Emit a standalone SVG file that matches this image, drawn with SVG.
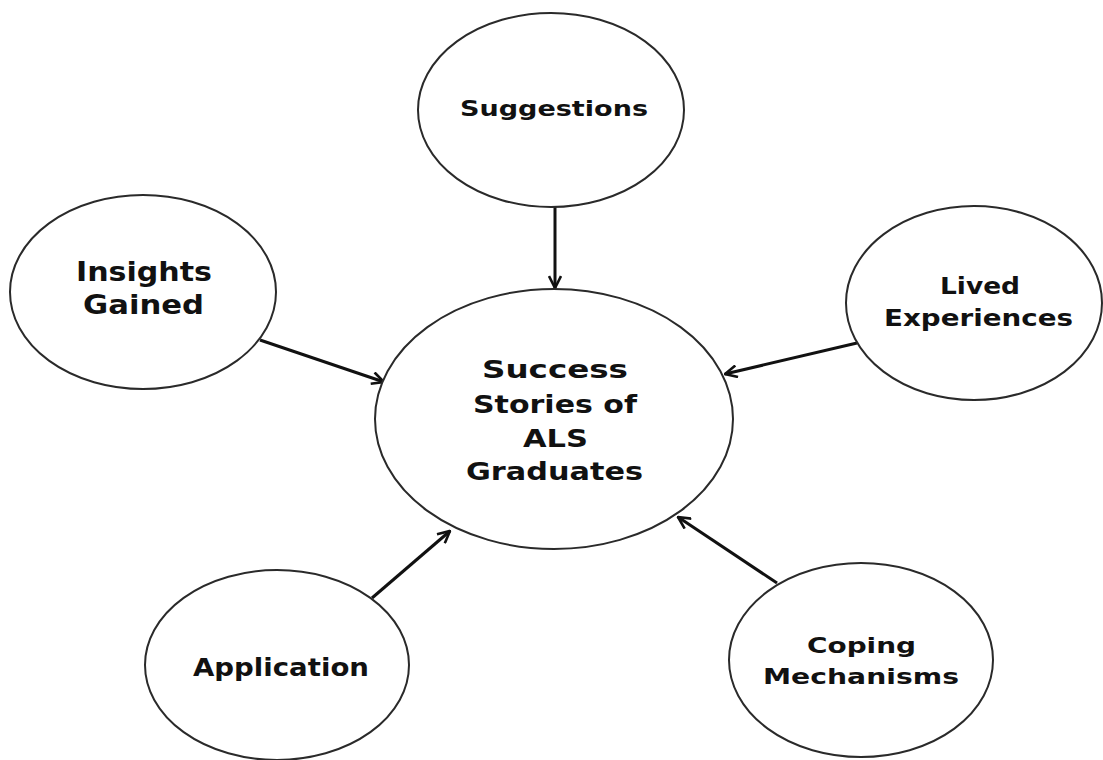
<svg xmlns="http://www.w3.org/2000/svg" width="1103" height="760" viewBox="0 0 1103 760">
<style>
.node{fill:#fff;stroke:#2a2a2a;stroke-width:2}
.lbl{font-family:"DejaVu Sans","Liberation Sans",sans-serif;font-weight:bold;fill:#111}
.edge{stroke:#111;stroke-width:3;fill:none;marker-end:url(#arr)}
</style>
<defs>
<marker id="arr" viewBox="0 0 14 14" refX="13" refY="7" markerWidth="14" markerHeight="14" markerUnits="userSpaceOnUse" orient="auto">
<polyline points="1,1 13,7 1,13" fill="none" stroke="#111" stroke-width="2.6" stroke-linejoin="miter"/>
</marker>
</defs>
<rect width="1103" height="760" fill="#fff"/>
<g id="connectors">
<line class="edge" x1="555" y1="207" x2="555" y2="288"/>
<line class="edge" x1="260" y1="340" x2="384" y2="382"/>
<line class="edge" x1="857" y1="343" x2="725" y2="374"/>
<line class="edge" x1="372" y1="598" x2="450" y2="531"/>
<line class="edge" x1="777" y1="583" x2="678" y2="517"/>
</g>
<g id="node-center">
<ellipse class="node" cx="554" cy="419" rx="179" ry="130"/>
<text class="lbl" font-size="25" x="482" y="378" textLength="146" lengthAdjust="spacingAndGlyphs">Success</text>
<text class="lbl" font-size="25" x="473" y="413" textLength="164" lengthAdjust="spacingAndGlyphs">Stories of</text>
<text class="lbl" font-size="25" x="523" y="447" textLength="65" lengthAdjust="spacingAndGlyphs">ALS</text>
<text class="lbl" font-size="25" x="466" y="480" textLength="177" lengthAdjust="spacingAndGlyphs">Graduates</text>
</g>
<g id="node-suggestions">
<ellipse class="node" cx="551" cy="110" rx="133" ry="97"/>
<text class="lbl" font-size="22" x="460" y="116" textLength="188" lengthAdjust="spacingAndGlyphs">Suggestions</text>
</g>
<g id="node-insights">
<ellipse class="node" cx="143" cy="292" rx="133" ry="97"/>
<text class="lbl" font-size="26" x="76" y="281" textLength="136" lengthAdjust="spacingAndGlyphs">Insights</text>
<text class="lbl" font-size="26" x="83" y="314" textLength="121" lengthAdjust="spacingAndGlyphs">Gained</text>
</g>
<g id="node-lived">
<ellipse class="node" cx="974" cy="303" rx="128" ry="97"/>
<text class="lbl" font-size="23" x="940" y="294" textLength="80" lengthAdjust="spacingAndGlyphs">Lived</text>
<text class="lbl" font-size="23" x="884" y="326" textLength="189" lengthAdjust="spacingAndGlyphs">Experiences</text>
</g>
<g id="node-application">
<ellipse class="node" cx="277" cy="665" rx="132" ry="95"/>
<text class="lbl" font-size="24" x="193" y="676" textLength="176" lengthAdjust="spacingAndGlyphs">Application</text>
</g>
<g id="node-coping">
<ellipse class="node" cx="861" cy="660" rx="132" ry="97"/>
<text class="lbl" font-size="22" x="807" y="653" textLength="109" lengthAdjust="spacingAndGlyphs">Coping</text>
<text class="lbl" font-size="22" x="763" y="684" textLength="196" lengthAdjust="spacingAndGlyphs">Mechanisms</text>
</g>
</svg>
